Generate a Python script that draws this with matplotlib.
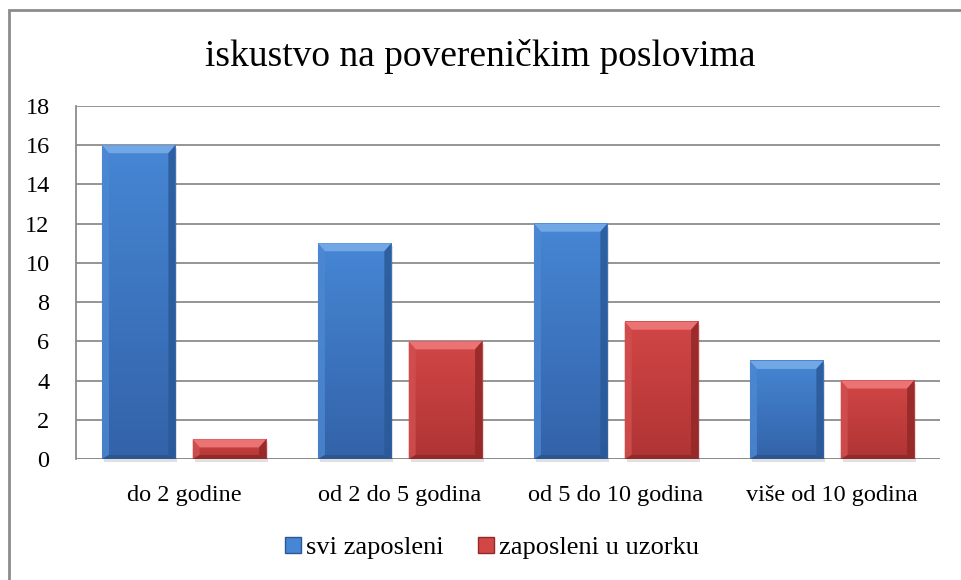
# iskustvo na povereničkim poslovima - stubičasti grafikon

import numpy as np
import matplotlib.pyplot as plt
from matplotlib.colors import LinearSegmentedColormap
from matplotlib.patches import Patch, Polygon, Rectangle

# Podaci
kategorije = ["do 2 godine", "od 2 do 5 godina", "od 5 do 10 godina", "više od 10 godina"]
svi_zaposleni = [16, 11, 12, 5]
zaposleni_u_uzorku = [1, 6, 7, 4]
serije = ["svi zaposleni", "zaposleni u uzorku"]
y_oznake = list(range(0, 19, 2))

plt.rcParams['font.family'] = ['Liberation Serif', 'DejaVu Serif']

# Boje (lice gore, lice dole, vrh, leva, desna, dno)
plava = ["#4686d4", "#3363a9", "#72a7e6", "#4d88d2", "#2b5997", "#2a548c"]
crvena = ["#d24646", "#b03434", "#ec7373", "#d25050", "#932828", "#8c2a2a"]

fig = plt.figure(figsize=(9.61, 5.8), dpi=100)
ax = fig.add_axes([76 / 961, 1 - 459 / 580, 864 / 961, 353 / 580])

x = np.arange(len(kategorije))
sirina = 0.34
pomak = 0.21

# koliko podataka po pikselu
px_x = 1 / 216.0
px_y = 18 / 353.0

gradijent = np.linspace(0, 1, 64).reshape(-1, 1)


def bevel_bar(xc, h, boje):
    x0 = xc - sirina / 2
    x1 = xc + sirina / 2
    bx = 7 * px_x
    by = 8 * px_y
    byb = 4 * px_y
    # senka
    ax.add_patch(Rectangle((x0 + 2 * px_x, -3 * px_y), sirina, h, facecolor="#000000",
                           alpha=0.12, edgecolor="none", zorder=2, clip_on=False))
    ax.add_patch(Rectangle((x0, 0), sirina, h, facecolor=boje[1], edgecolor="none", zorder=3))
    cmap = LinearSegmentedColormap.from_list("g", [boje[0], boje[1]])
    ax.imshow(gradijent, extent=(x0, x1, 0, h), aspect="auto", cmap=cmap, zorder=3.5,
              interpolation="bilinear")
    # vrh
    ax.add_patch(Polygon([(x0, h), (x1, h), (x1 - bx, h - by), (x0 + bx, h - by)],
                         closed=True, facecolor=boje[2], edgecolor="none", zorder=4))
    # leva strana
    ax.add_patch(Polygon([(x0, 0), (x0, h), (x0 + bx, h - by), (x0 + bx, byb)],
                         closed=True, facecolor=boje[3], edgecolor="none", zorder=4, alpha=0.8))
    # desna strana
    ax.add_patch(Polygon([(x1, 0), (x1, h), (x1 - bx, h - by), (x1 - bx, byb)],
                         closed=True, facecolor=boje[4], edgecolor="none", zorder=4, alpha=0.85))
    # dno
    ax.add_patch(Polygon([(x0, 0), (x1, 0), (x1 - bx, byb), (x0 + bx, byb)],
                         closed=True, facecolor=boje[5], edgecolor="none", zorder=4, alpha=0.85))


for i in range(len(kategorije)):
    bevel_bar(x[i] - pomak, svi_zaposleni[i], plava)
    bevel_bar(x[i] + pomak, zaposleni_u_uzorku[i], crvena)

ax.set_xlim(-0.5, len(kategorije) - 0.5)
ax.set_ylim(0, 18)

# Mreža i ose
ax.set_yticks(y_oznake)
ax.yaxis.grid(True, color="#8c8c8c", linewidth=1.3)
ax.set_axisbelow(True)
for s in ["top", "right", "bottom"]:
    ax.spines[s].set_visible(False)
ax.spines["left"].set_color("#8c8c8c")
ax.spines["left"].set_linewidth(1.3)
ax.axhline(0, color="#8c8c8c", linewidth=1.3, zorder=1)

ax.set_xticks(x)
ax.set_xticklabels(kategorije, fontsize=17.5)
ax.tick_params(axis="x", length=0, pad=19)
ax.tick_params(axis="y", length=0, pad=19, labelsize=17.5)

fig.text(0.5, 1 - 57 / 580, "iskustvo na povereničkim poslovima", ha="center", va="center",
         fontsize=27)

# Legenda
rucke = [Patch(facecolor=plava[0], edgecolor=plava[4]), Patch(facecolor=crvena[0], edgecolor=crvena[4])]
fig.legend(rucke, serije, loc="center", bbox_to_anchor=(492 / 961, 1 - 548 / 580), ncol=2, frameon=False,
           fontsize=19, handlelength=0.6, handleheight=0.6, handletextpad=0.2, columnspacing=1.3)

# Okvir grafikona
fig.patches.append(Rectangle((9 / 961, -0.1), 1.2, 1 - 10 / 580 + 0.1, transform=fig.transFigure,
                             facecolor="none", edgecolor="#8c8c8c", linewidth=2))

fig.savefig("out.png", dpi=100)
